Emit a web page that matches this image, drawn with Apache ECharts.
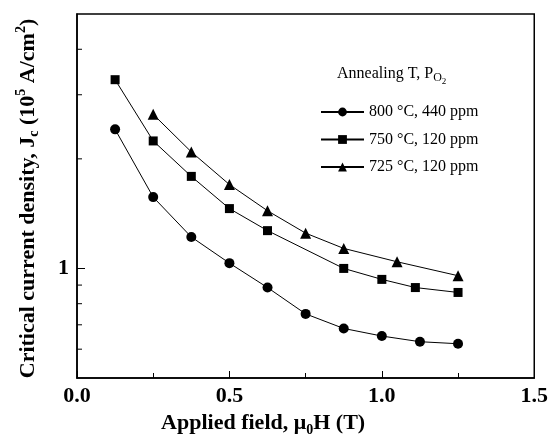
<!DOCTYPE html>
<html>
<head>
<meta charset="utf-8">
<script src="https://cdn.jsdelivr.net/npm/echarts@6/dist/echarts.min.js"></script>
<style>html,body{margin:0;padding:0;background:#fff}#c{width:551px;height:442px}</style>
</head>
<body>
<div id="c"></div>
<script>
// ---- data ----
const seriesNames = ['800 °C, 440 ppm', '750 °C, 120 ppm', '725 °C, 120 ppm'];
const field800 = [0.125, 0.25, 0.375, 0.5, 0.625, 0.75, 0.875, 1.0, 1.125, 1.25];
const jc800    = [2.41, 1.57, 1.22, 1.034, 0.886, 0.75, 0.684, 0.652, 0.629, 0.621];
const field750 = [0.125, 0.25, 0.375, 0.5, 0.625, 0.875, 1.0, 1.11, 1.25];
const jc750    = [3.30, 2.24, 1.79, 1.46, 1.27, 1.0, 0.933, 0.886, 0.859];
const field725 = [0.25, 0.375, 0.5, 0.625, 0.75, 0.875, 1.05, 1.25];
const jc725    = [2.65, 2.09, 1.70, 1.44, 1.25, 1.135, 1.043, 0.955];
const xTicks = [0.0, 0.5, 1.0, 1.5];
const yMajorLabels = [1];
const yMinorTicks = [0.6, 0.7, 0.8, 0.9, 2, 3, 4];

const FONT = 'Liberation Serif';
const pair = (xs, ys) => xs.map((x, i) => [x, ys[i]]);

const chart = echarts.init(document.getElementById('c'), null, {renderer: 'canvas'});
const lineSeries = (name, xs, ys, symbol, size) => ({
  name, type: 'line', data: pair(xs, ys), symbol, symbolSize: size,
  itemStyle: {color: '#000'}, lineStyle: {color: '#000', width: 1},
  showSymbol: true, z: 3
});

chart.setOption({
  animation: false,
  backgroundColor: '#fff',
  title: {
    text: 'Annealing T, P{sub|O}{sub2|2}',
    left: 337, top: 61, padding: 0,
    textStyle: {
      fontFamily: FONT, fontSize: 16, fontWeight: 'normal', color: '#000',
      rich: {
        sub: {fontFamily: FONT, fontSize: 12, color: '#000', padding: [8, 0, 0, 0]},
        sub2: {fontFamily: FONT, fontSize: 9, color: '#000', padding: [16, 0, 0, 0]}
      }
    }
  },
  legend: {
    data: seriesNames,
    orient: 'vertical', left: 320, top: 104, padding: 0,
    itemWidth: 43, itemHeight: 11, itemGap: 11.5,
    textStyle: {fontFamily: FONT, fontSize: 16, color: '#000'},
    selectedMode: false
  },
  grid: {left: 77, top: 14, right: 15, bottom: 60, show: true, borderColor: '#000', borderWidth: 1.5, backgroundColor: 'transparent'},
  xAxis: {
    type: 'value', min: xTicks[0], max: xTicks[xTicks.length - 1], interval: 0.5,
    axisLine: {show: true, lineStyle: {color: '#000', width: 1.5}},
    axisTick: {show: true, inside: true, length: 7, lineStyle: {color: '#000', width: 1}},
    minorTick: {show: true, splitNumber: 2, length: 5, lineStyle: {color: '#000', width: 1}},
    splitLine: {show: false},
    axisLabel: {margin: 7, fontFamily: FONT, fontSize: 22, fontWeight: 'bold', color: '#000', formatter: v => v.toFixed(1)},
    name: 'Applied field, μ{sub|0}H (T)',
    nameLocation: 'middle', nameGap: 31,
    nameTextStyle: {
      fontFamily: FONT, fontSize: 22, fontWeight: 'bold', color: '#000', padding: [0, 85, 0, 0],
      rich: {sub: {fontFamily: FONT, fontSize: 14, fontWeight: 'bold', color: '#000', padding: [14, 0, 0, 0]}}
    }
  },
  yAxis: {
    type: 'log', logBase: 10, min: 0.5, max: 5,
    axisLine: {show: true, lineStyle: {color: '#000', width: 1.5}},
    axisTick: {show: true, inside: true, length: 8, lineStyle: {color: '#000', width: 1}},
    splitLine: {show: false},
    axisLabel: {
      margin: 8, fontFamily: FONT, fontSize: 22, fontWeight: 'bold', color: '#000',
      showMinLabel: false, showMaxLabel: false,
      formatter: v => (yMajorLabels.some(m => Math.abs(m - v) < 1e-9) ? String(Math.round(v)) : '')
    },
    name: 'Critical current density, J{sub|c} (10{sup|5} A/cm{sup|2})',
    nameLocation: 'middle', nameRotate: 90, nameGap: 35,
    nameTextStyle: {
      fontFamily: FONT, fontSize: 22, fontWeight: 'bold', color: '#000', padding: [0, 5, 0, 0],
      rich: {
        sub: {fontFamily: FONT, fontSize: 14, fontWeight: 'bold', color: '#000', padding: [12, 0, 0, 0]},
        sup: {fontFamily: FONT, fontSize: 14, fontWeight: 'bold', color: '#000', padding: [0, 0, 14, 0]}
      }
    }
  },
  series: [
    lineSeries(seriesNames[0], field800, jc800, 'circle', 10),
    lineSeries(seriesNames[1], field750, jc750, 'rect', 9),
    lineSeries(seriesNames[2], field725, jc725, 'triangle', 11),
    {
      type: 'custom', silent: true, z: 5,
      data: yMinorTicks.map(v => [0, v]),
      renderItem: (params, api) => {
        const p = api.coord([api.value(0), api.value(1)]);
        return {type: 'line', shape: {x1: p[0], y1: p[1], x2: p[0] + 5, y2: p[1]}, style: {stroke: '#000', lineWidth: 1}};
      }
    }
  ]
});
</script>
</body>
</html>
